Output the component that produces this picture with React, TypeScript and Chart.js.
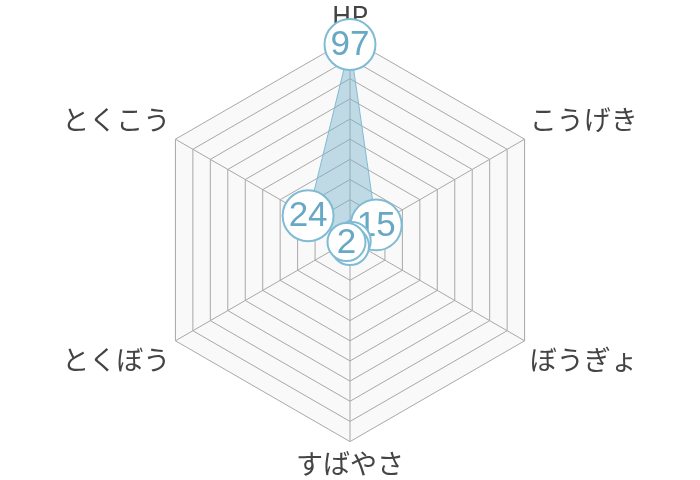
import React, { useEffect, useRef } from "react";
import { Chart, registerables } from "chart.js";

Chart.register(...registerables);

const labels = ["HP", "こうげき", "ぼうぎょ", "すばやさ", "とくぼう", "とくこう"];
const values = [97, 15, 1, 3, 2, 24];

const LINE = "#7fbcd4";
const TEXT = "#67a8c4";

// draws a white bubble with the value on each point, in order
const valueBubbles = {
  id: "valueBubbles",
  afterDatasetsDraw(chart: any) {
    const ctx = chart.ctx;
    const meta = chart.getDatasetMeta(0);
    const data = chart.data.datasets[0].data;
    ctx.save();
    ctx.font = "35px 'Liberation Sans', Arial, sans-serif";
    meta.data.forEach((pt: any, i: number) => {
      const txt = String(data[i]);
      const w = ctx.measureText(txt).width;
      const r = Math.max(19, w / 2 + 6);
      ctx.beginPath();
      ctx.arc(pt.x, pt.y, r, 0, Math.PI * 2);
      ctx.fillStyle = "#ffffff";
      ctx.fill();
      ctx.lineWidth = 2;
      ctx.strokeStyle = LINE;
      ctx.stroke();
      ctx.fillStyle = TEXT;
      ctx.textAlign = "center";
      ctx.textBaseline = "middle";
      ctx.fillText(txt, pt.x, pt.y + 1);
    });
    ctx.restore();
  },
};

const App: React.FC = () => {
  const canvasRef = useRef<HTMLCanvasElement | null>(null);
  const chartRef = useRef<any>(null);

  useEffect(() => {
    if (!canvasRef.current) return;
    const ctx = canvasRef.current.getContext("2d");
    if (!ctx) return;
    if (chartRef.current) chartRef.current.destroy();

    chartRef.current = new Chart(ctx, {
      type: "radar",
      data: {
        labels,
        datasets: [
          {
            data: values,
            borderColor: LINE,
            borderWidth: 1,
            backgroundColor: "rgba(120,180,205,0.45)",
            pointRadius: 0,
            pointHoverRadius: 0,
          },
        ],
      },
      options: {
        animation: false,
        responsive: true,
        maintainAspectRatio: false,
        plugins: {
          legend: { display: false },
          tooltip: { enabled: false },
        },
        scales: {
          r: {
            min: 0,
            max: 100,
            backgroundColor: "#f9f9f9",
            ticks: { display: false, stepSize: 10 },
            grid: { color: "#a8a8a8", lineWidth: 1 },
            angleLines: { color: "#a8a8a8", lineWidth: 1 },
            pointLabels: {
              color: "#444444",
              font: { size: 27, family: "'Noto Sans CJK JP', sans-serif" },
              padding: 6,
            },
          },
        },
      },
      plugins: [valueBubbles],
    });

    return () => {
      chartRef.current?.destroy();
    };
  }, []);

  return (
    <div style={{ position: "fixed", left: 0, top: 0, width: 700, height: 480, background: "#fff" }}>
      <canvas ref={canvasRef}></canvas>
    </div>
  );
};

export default App;
